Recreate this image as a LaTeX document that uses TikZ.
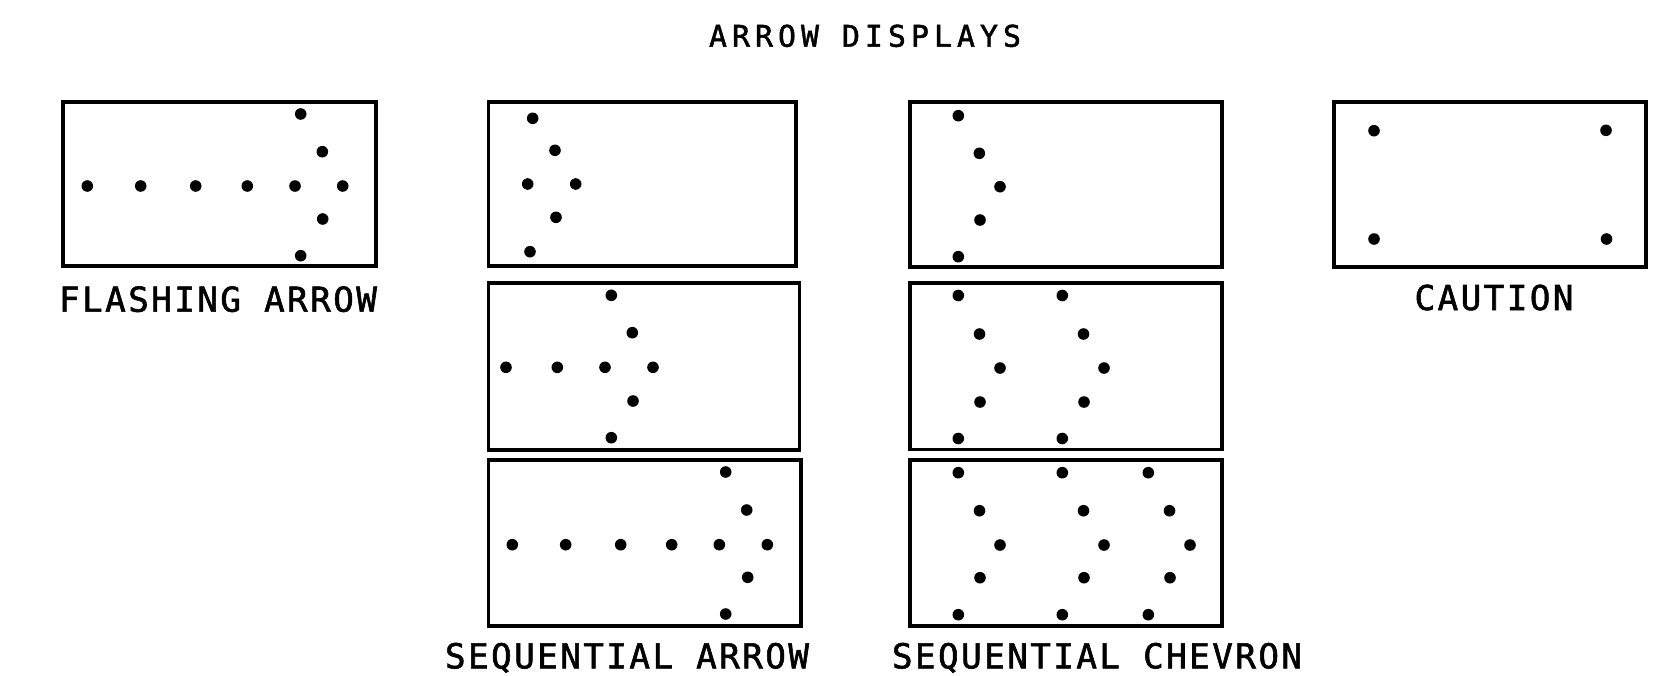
\documentclass[tikz,border=0pt]{standalone}
\usepackage{fontspec}
\newfontfamily\cadlabel{DejaVu Sans Mono}[LetterSpace=7,FakeBold=1.6]
\newfontfamily\cadtitle{DejaVu Sans Mono}[LetterSpace=17,FakeBold=1.6]
\begin{document}
\begin{tikzpicture}[x=1pt,y=-1pt,
  panel/.style={draw=black,line width=3.6pt},
  lamp/.style={fill=black},
  caption/.style={anchor=base,inner sep=0pt,font=\cadlabel\fontsize{34.3pt}{36pt}\selectfont},
  heading/.style={anchor=base,inner sep=0pt,font=\cadtitle\fontsize{29.8pt}{32pt}\selectfont}]
\useasboundingbox (0,0) rectangle (1673,675);
\fill[white] (0,0) rectangle (1673,675);
\def\r{5.8}
% title
\node[heading] (title) at (865,46.7) {ARROW DISPLAYS};
% flashing arrow
\draw[panel] (62.7,101.7) rectangle (375.7,265.7);
\foreach \x in {87.3,140.7,195.7,247.3,295,342.7} \fill[lamp] (\x,186) circle (\r);
\foreach \p in {(300.7,114),(322.3,151.7),(322.7,219),(300.7,255.7)} \fill[lamp] \p circle (\r);
\node[caption] (flash) at (218,311.7) {FLASHING ARROW};
% sequential arrow
\draw[panel] (488.3,101.7) rectangle (795.7,265.7);
\foreach \p in {(532.7,118.3),(555,150.3),(527.7,184),(575.7,184),(556,217.3),(530,251.7)} \fill[lamp] \p circle (\r);
\draw[panel] (488.3,282.7) rectangle (799.3,450);
\foreach \p in {(611.3,295.3),(632.3,332.7),(506,367.3),(557.3,367.3),(605,367.3),(653,367.3),(633,401),(611.3,437.7)} \fill[lamp] \p circle (\r);
\draw[panel] (488.3,460) rectangle (800.7,625.7);
\foreach \x in {512.3,565.7,620.7,671.7,719.3,767.3} \fill[lamp] (\x,544.7) circle (\r);
\foreach \p in {(725.7,472),(746.7,510),(747.7,577.3),(725.7,614)} \fill[lamp] \p circle (\r);
\node[caption] (seqarrow) at (627,668.3) {SEQUENTIAL ARROW};
% sequential chevron
\draw[panel] (910,101.7) rectangle (1221.7,266.7);
\foreach \p in {(958.3,115.7),(979.3,153.3),(1000,186.7),(980,220),(958.3,256.7)} \fill[lamp] \p circle (\r);
\draw[panel] (910,282.7) rectangle (1221.7,449.3);
\foreach \dx in {0,104} {
  \foreach \p/\q in {958.3/295.5,979.5/334,1000/368,980/402,958.3/438.5} \fill[lamp] (\p+\dx,\q) circle (\r);
}
\draw[panel] (910,460) rectangle (1221.7,625.7);
\foreach \dx in {0,104,190} {
  \foreach \p/\q in {958.3/472.7,979.5/510.7,1000/545,980/577.7,958.3/614.7} \fill[lamp] (\p+\dx,\q) circle (\r);
}
\node[caption] (seqchev) at (1097,668.3) {SEQUENTIAL CHEVRON};
% caution
\draw[panel] (1334,101.7) rectangle (1646,266.7);
\foreach \p in {(1374,130.7),(1606,130.3),(1374,239),(1606.5,239)} \fill[lamp] \p circle (\r);
\node[caption] (caution) at (1494,310) {CAUTION};
\end{tikzpicture}
\end{document}
